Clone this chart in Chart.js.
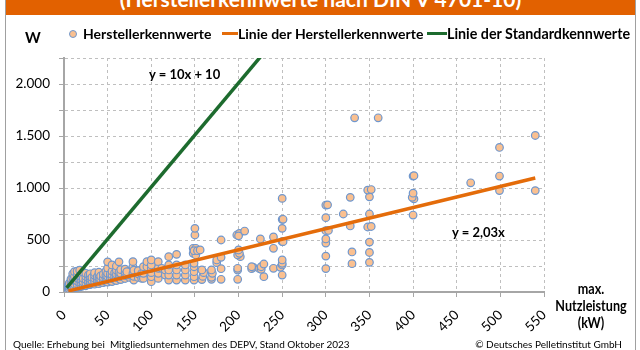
<!DOCTYPE html>
<html>
<head>
<meta charset="utf-8">
<script src="https://cdn.jsdelivr.net/npm/chart.js@4"></script>
<style>
  body { margin: 0; background: #fff; }
  #wrap { position: relative; width: 640px; height: 350px; overflow: hidden; font-family: Lato, sans-serif; color: #000; }
  #wrap canvas { position: absolute; left: 0; top: 0; }
  .frame { position: absolute; top: 0; bottom: 0; width: 1px; background: #a0a0a0; }
  .banner { position: absolute; left: 6px; top: 0; width: 629px; height: 15px; background: #e26100; overflow: hidden; }
  .banner span { position: absolute; left: 0; right: 0; top: -14px; text-align: center; color: #fff; font-weight: bold; font-size: 21px; white-space: nowrap; }
  .txt { position: absolute; white-space: nowrap; }
  .b { font-weight: bold; }
</style>
</head>
<body>
<div id="wrap">
  <canvas id="chart" width="640" height="350"></canvas>
  <div class="frame" style="left:5px"></div>
  <div class="frame" style="left:635px"></div>
  <div class="banner"><span>(Herstellerkennwerte nach DIN V 4701-10)</span></div>

  <div class="txt b" style="left:25px; top:28px; font-size:15px;">W</div>

  <!-- legend -->
  <div style="position:absolute; left:69px; top:30px; width:6px; height:6px; border-radius:50%; background:#fac090; border:1px solid #6f97ce;"></div>
  <div class="txt b" style="left:83px; top:25px; font-size:14px;">Herstellerkennwerte</div>
  <div style="position:absolute; left:222px; top:32px; width:16px; height:3px; background:#e46c0a;"></div>
  <div class="txt b" style="left:238px; top:25px; font-size:14px;">Linie der Herstellerkennwerte</div>
  <div style="position:absolute; left:427px; top:32px; width:20px; height:3px; background:#1d6b2e;"></div>
  <div class="txt b" style="left:447px; top:25px; font-size:14.3px;">Linie der Standardkennwerte</div>

  <!-- equations -->
  <div class="txt b" style="left:149px; top:66px; font-size:13px;">y = 10x + 10</div>
  <div class="txt b" style="left:452px; top:224px; font-size:13px;">y = 2,03x</div>

  <!-- axis title -->
  <div class="txt b" style="left:541px; width:100px; top:280px; font-size:15px; line-height:17px; text-align:center; transform:scaleX(0.84); transform-origin:50% 0;">max.<br>Nutzleistung<br>(kW)</div>

  <!-- footer -->
  <div class="txt" style="left:13px; top:338px; font-size:10px;">Quelle: Erhebung bei&nbsp; Mitgliedsunternehmen des DEPV, Stand Oktober 2023</div>
  <div class="txt" style="right:18px; top:338px; font-size:10px;">© Deutsches Pelletinstitut GmbH</div>
</div>

<script>
// x-axis: max. Nutzleistung (kW) from 0 to 550
const xTicks = [0, 50, 100, 150, 200, 250, 300, 350, 400, 450, 500, 550];
// y-axis: W, labelled every 500, grid every 250
const yTicks = [0, 500, 1000, 1500, 2000];

// Herstellerkennwerte [kW, W]
const herstellerPunkte = [
  [3,30],[3,45],[5,20],[5,40],[5,65],[6,30],[6,55],[6,85],[8,35],[8,60],[8,95],[8,125],
  [10,30],[10,60],[10,95],[10,140],[10,175],[12,40],[12,75],[12,110],[12,150],[12,195],
  [15,45],[15,75],[15,105],[15,135],[15,165],[15,200],[18,50],[18,85],[18,120],[18,150],[18,210],
  [20,55],[20,85],[20,115],[20,145],[20,175],[22,60],[22,95],[22,130],[22,190],
  [25,60],[25,90],[25,120],[25,150],[25,180],[28,70],[28,100],[28,135],[28,165],
  [30,70],[30,95],[30,125],[30,150],[30,175],[32,80],[32,110],[32,140],
  [35,75],[35,105],[35,130],[35,160],[35,185],[38,85],[38,115],[38,145],
  [40,80],[40,105],[40,135],[40,165],[40,190],[42,95],[42,125],[42,155],
  [45,90],[45,115],[45,140],[45,170],[48,100],[48,130],[48,160],[48,200],
  [50,95],[50,120],[50,150],[50,180],[50,230],[50,290],[53,110],[53,140],[53,170],
  [55,100],[55,130],[55,165],[55,200],[55,260],[58,120],[58,150],[58,185],
  [60,110],[60,140],[60,170],[60,210],[60,250],[63,130],[63,160],[63,190],[63,290],
  [65,120],[65,150],[65,180],[65,215],[70,130],[70,160],[70,190],[70,220],
  [75,140],[75,170],[75,200],[72,163],[72,195],[79,180],[79,243],[79,292],
  [80,115],[80,150],[80,210],[85,140],[85,175],[85,205],
  [89,131],[89,180],[91,131],[91,180],[91,243],[95,243],[95,292],
  [100,99],[100,147],[100,186],[100,228],[100,260],[100,308],
  [108,131],[108,180],[108,228],[108,292],[112,228],[116,163],[116,212],
  [120,115],[120,163],[120,212],[120,260],[120,340],
  [129,115],[129,163],[129,212],[129,260],[129,362],
  [139,115],[139,163],[139,212],[139,260],
  [148,372],[148,420],[151,356],[151,420],[149,397],[153,397],
  [149,115],[149,147],[149,195],[149,243],[149,276],[150,548],[150,612],[156,404],
  [158,120],[159,150],[160,186],[158,212],
  [169,122],[169,141],[170,180],[169,212],
  [175,282],[175,308],[180,122],[180,224],[180,333],[180,500],
  [198,548],[201,564],[200,540],[207,586],
  [199,122],[199,211],[199,228],[202,340],[199,356],[201,372],[200,404],
  [215,224],[217,237],[215,243],[224,224],[226,218],[226,243],[229,269],[229,147],[225,510],
  [240,228],[240,420],[240,530],
  [248,237],[250,163],[250,260],[250,276],[250,308],[250,484],[251,484],[250,612],[250,699],[251,699],[250,900],
  [300,225],[300,345],[300,470],[300,510],[300,590],[303,592],[300,715],[300,836],[302,838],
  [320,750],[328,635],[328,910],[330,272],[330,385],[333,1675],
  [350,285],[350,380],[350,480],[348,625],[352,630],[350,750],[350,915],[348,980],[352,985],[360,1675],
  [400,740],[401,895],[399,910],[400,950],[400,1115],[401,1118],
  [466,1050],[499,975],[499,1115],[499,1390],[540,975],[540,1505]
];

// Linie der Herstellerkennwerte: y = 2,03x
const herstellerLinieX = [5, 540];
const herstellerLinieY = [10, 1096];
// Linie der Standardkennwerte: y = 10x + 10
const standardLinieX = [3, 250];
const standardLinieY = [40, 2510];

function deNumber(v) {
    return String(v).replace(/\B(?=(\d{3})+(?!\d))/g, '.');
}

Chart.defaults.font.family = 'Lato, sans-serif';
Chart.defaults.font.size = 13.5;
Chart.defaults.color = '#000';

const ctx = document.getElementById('chart').getContext('2d');
new Chart(ctx, {
    type: 'scatter',
    data: {
        datasets: [
            {
                type: 'line',
                label: 'Linie der Standardkennwerte',
                data: standardLinieX.map((x, i) => ({ x: x, y: standardLinieY[i] })),
                borderColor: '#1d6b2e',
                borderWidth: 3.5,
                pointRadius: 0
            },
            {
                type: 'line',
                label: 'Linie der Herstellerkennwerte',
                data: herstellerLinieX.map((x, i) => ({ x: x, y: herstellerLinieY[i] })),
                borderColor: '#e46c0a',
                borderWidth: 3.5,
                pointRadius: 0
            },
            {
                label: 'Herstellerkennwerte',
                data: herstellerPunkte.map(p => ({ x: p[0], y: p[1] })),
                backgroundColor: '#fac090',
                borderColor: '#6f97ce',
                borderWidth: 1.2,
                pointRadius: 3.8
            }
        ]
    },
    options: {
        responsive: false,
        animation: false,
        layout: { padding: { left: 0, right: 96, top: 58, bottom: 0 } },
        plugins: { legend: { display: false }, tooltip: { enabled: false } },
        scales: {
            x: {
                type: 'linear',
                min: xTicks[0],
                max: xTicks[xTicks.length - 1],
                afterBuildTicks: (scale) => { scale.ticks = xTicks.map(v => ({ value: v })); },
                afterFit: (scale) => { scale.height = 58; },
                ticks: { minRotation: 45, maxRotation: 45, padding: 10 },
                grid: { color: '#bfbfbf', tickLength: 5, tickColor: '#a6a6a6' },
                border: { display: true, color: '#a6a6a6', width: 2, dash: [3, 3] }
            },
            y: {
                min: 0,
                max: 2250,
                ticks: {
                    stepSize: 250,
                    padding: 9,
                    callback: (v) => yTicks.includes(v) ? deNumber(v) : ''
                },
                afterFit: (scale) => { scale.width = 64; },
                grid: { color: '#bfbfbf', tickLength: 5, tickColor: '#a6a6a6' },
                border: { display: true, color: '#a6a6a6', width: 2, dash: [3, 3] }
            }
        }
    }
});
</script>
</body>
</html>
